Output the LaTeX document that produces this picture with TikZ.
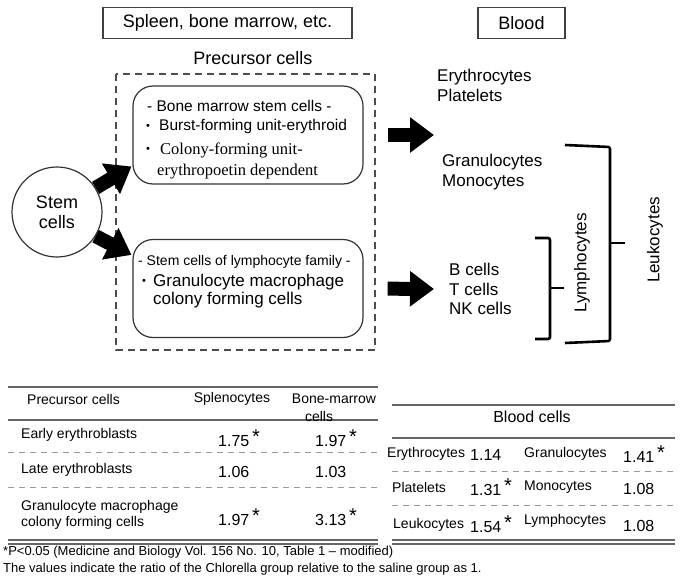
\documentclass[tikz,border=0pt]{standalone}
\usepackage{fontspec}
\setmainfont{Liberation Sans}
\newfontfamily\mincho{Liberation Serif}
\usetikzlibrary{arrows.meta}
\newcommand{\signif}{\,\raisebox{.3ex}{\fontsize{20}{20}\selectfont *}}
\newcommand{\dotmark}{{\fontsize{11}{11}\selectfont •}}
\tikzset{
  titlebox/.style={draw=black!75, line width=1.2pt, inner sep=0pt, minimum height=31pt, font=\fontsize{18}{21}\selectfont},
  roundbox/.style={draw=black!80, line width=1.2pt, rounded corners=20pt, inner sep=0pt, minimum width=230pt, minimum height=98pt},
  bigarrow/.style={line width=14pt, -{Triangle[length=24pt,width=34pt]}},
  bracketline/.style={line width=2.6pt, rounded corners=2pt},
  lbl/.style={anchor=west, inner sep=0pt, align=left, font=\fontsize{17}{20}\selectfont},
  tab/.style={anchor=west, inner sep=0pt, align=left, font=\fontsize{14}{16}\selectfont},
  val/.style={anchor=west, inner sep=0pt, font=\fontsize{16}{18}\selectfont},
  hrule/.style={draw=black!60, line width=1.6pt},
  dashrule/.style={draw=black!40, line width=1pt, dash pattern=on 6pt off 5pt},
}
\begin{document}
\begin{tikzpicture}[x=1pt, y=-1pt]
  \useasboundingbox (0,0) rectangle (680,583);
  % headings
  \node[titlebox, minimum width=249pt] (spleen) at (227.5,23) {Spleen, bone marrow, etc.};
  \node[titlebox, minimum width=87pt] (blood) at (521.5,23) {Blood};
  \node[font=\fontsize{18}{21}\selectfont] (precursor) at (253,58) {Precursor cells};
  \draw[black!70, line width=1.3pt, dash pattern=on 7pt off 5pt] (116,74) rectangle (375,350);
  % stem cells and precursor boxes
  \node[draw=black!80, line width=1.2pt, circle, minimum size=90pt, inner sep=0pt, align=center,
        font=\fontsize{18}{20}\selectfont] (stem) at (57,212) {Stem\\cells};
  \node[roundbox] (upbox) at (248,135) {};
  \node[roundbox] (lowbox) at (248,288.5) {};
  \node[anchor=west, inner sep=0pt, font=\fontsize{15.5}{18}\selectfont] (bm) at (147,106) {- Bone marrow stem cells -};
  \node[anchor=west, inner sep=0pt] (bfudot) at (146,127) {\dotmark};
  \node[anchor=west, inner sep=0pt, font=\fontsize{15.5}{18}\selectfont] (bfu) at (159,126) {Burst-forming unit-erythroid};
  \node[anchor=west, inner sep=0pt] (cfudot) at (146,150) {\dotmark};
  \node[anchor=west, inner sep=0pt, font=\mincho\fontsize{16.5}{18}\selectfont] (cfu) at (160,150) {Colony-forming unit-};
  \node[anchor=west, inner sep=0pt, font=\mincho\fontsize{16.5}{18}\selectfont] (epo) at (157,172) {erythropoetin dependent};
  \node[anchor=west, inner sep=0pt, font=\fontsize{14}{16}\selectfont] (lymfam) at (138,262) {- Stem cells of lymphocyte family -};
  \node[anchor=west, inner sep=0pt] (gmdot) at (142,282) {\dotmark};
  \node[anchor=west, inner sep=0pt, align=left, font=\fontsize{17}{18.5}\selectfont] (gm) at (153,291) {Granulocyte macrophage\\colony forming cells};
  % arrows
  \coordinate (uptip) at (434,135);
  \coordinate (lowtip) at (434,289);
  \draw[bigarrow, shorten >=1pt] (stem.32) -- (upbox.195);
  \draw[bigarrow, shorten >=1pt] (stem.-32) -- (lowbox.164);
  \draw[bigarrow, shorten <=24pt] (upbox.east) -- (uptip);
  \draw[bigarrow, shorten <=24pt] (lowbox.east) -- (lowtip);
  % blood cells
  \node[lbl] (ery) at (437,85) {Erythrocytes\\Platelets};
  \node[lbl] (gran) at (442,172.5) {Granulocytes\\Monocytes};
  \node[lbl, font=\fontsize{17}{19.5}\selectfont] (btnk) at (449,289) {B cells\\T cells\\NK cells};
  \draw[bracketline] (535,238) -- (550,238) -- (550,339) -- (535,339);
  \draw[bracketline] (550,288) -- (564,288);
  \node[rotate=90, inner sep=0pt, font=\fontsize{17}{20}\selectfont] (lymph) at (582,263) {Lymphocytes};
  \draw[bracketline] (565,145) -- (610,147) -- (610,341) -- (565,343);
  \draw[bracketline] (610,243) -- (625,243);
  \node[rotate=90, inner sep=0pt, font=\fontsize{17}{20}\selectfont] (leuk) at (655,240) {Leukocytes};
  % precursor table
  \draw[hrule] (8,387) -- (378,387);
  \draw[hrule] (8,420) -- (378,420);
  \draw[dashrule] (8,452) -- (378,452);
  \draw[dashrule] (8,487) -- (378,487);
  \draw[hrule] (8,540) -- (378,540);
  \draw[hrule] (8,544) -- (378,544);
  \node[tab] (hprec) at (27,399) {Precursor cells};
  \node[tab, anchor=center] (hspl) at (232,399) {Splenocytes};
  \node[tab, anchor=center] (hbm) at (334,399) {Bone-marrow};
  \node[tab, anchor=center] (hbm2) at (319,416) {cells};
  \node[tab] (early) at (21,435) {Early erythroblasts};
  \node[val] (early1) at (218,438) {1.75\signif};
  \node[val] (early2) at (315,438) {1.97\signif};
  \node[tab] (late) at (21,470) {Late erythroblasts};
  \node[val] (late1) at (218,472) {1.06};
  \node[val] (late2) at (315,472) {1.03};
  \node[tab] (gmcf) at (21,515) {Granulocyte macrophage\\colony forming cells};
  \node[val] (gmcf1) at (218,517) {1.97\signif};
  \node[val] (gmcf2) at (315,517) {3.13\signif};
  % blood table
  \draw[hrule] (392,405) -- (675,405);
  \draw[hrule] (392,438) -- (675,438);
  \draw[dashrule] (392,471) -- (675,471);
  \draw[dashrule] (392,505) -- (675,505);
  \draw[hrule] (392,540) -- (675,540);
  \draw[hrule] (392,544) -- (675,544);
  \node[font=\fontsize{16}{18}\selectfont] (hblood) at (532,417) {Blood cells};
  \node[tab] (b1) at (387,454) {Erythrocytes};
  \node[val] (b1v) at (470,455) {1.14};
  \node[tab] (b2) at (524,454) {Granulocytes};
  \node[val] (b2v) at (623,454) {1.41\signif};
  \node[tab] (b3) at (392,487) {Platelets};
  \node[val] (b3v) at (470,487) {1.31\signif};
  \node[tab] (b4) at (524,487) {Monocytes};
  \node[val] (b4v) at (623,489) {1.08};
  \node[tab] (b5) at (393,525) {Leukocytes};
  \node[val] (b5v) at (470,524) {1.54\signif};
  \node[tab] (b6) at (524,521) {Lymphocytes};
  \node[val] (b6v) at (623,526) {1.08};
  % footnote
  \node[anchor=west, inner sep=0pt, font=\fontsize{13}{15}\selectfont] (note1) at (3,552) {*P<0.05 (Medicine and Biology Vol. 156 No. 10, Table 1 -- modified)};
  \node[anchor=west, inner sep=0pt, font=\fontsize{13}{15}\selectfont] (note2) at (3,569) {The values indicate the ratio of the Chlorella group relative to the saline group as 1.};
\end{tikzpicture}
\end{document}
